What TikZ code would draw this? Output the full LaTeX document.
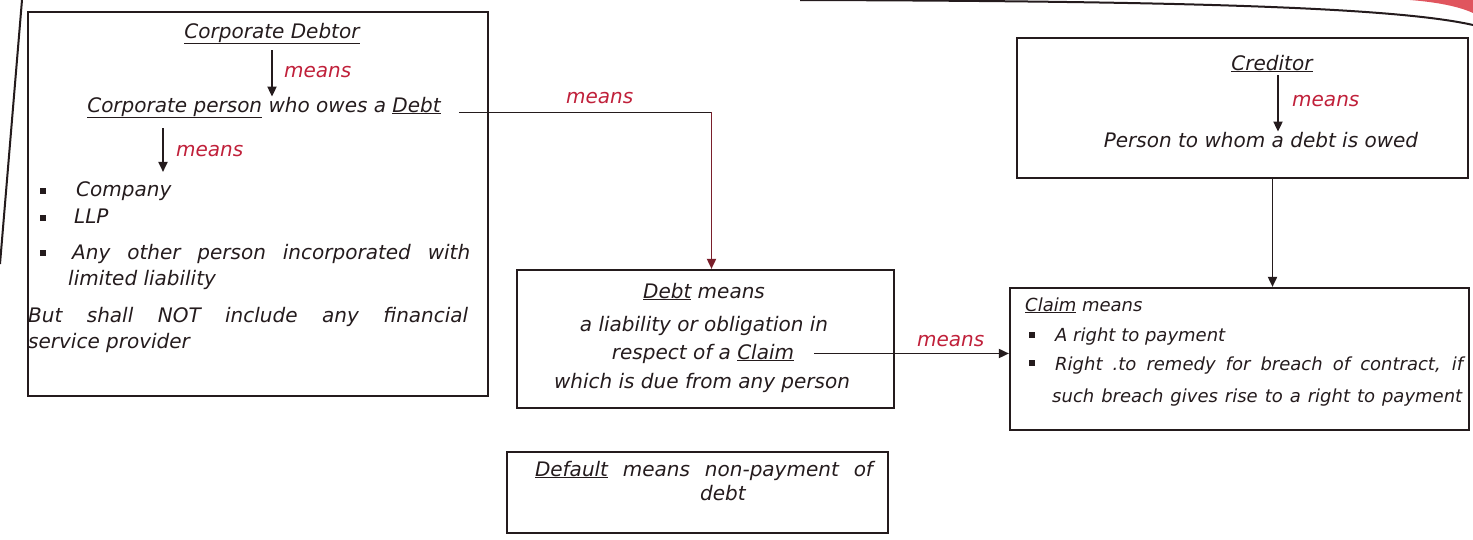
\documentclass[tikz,border=0pt]{standalone}
\usepackage{fontspec}
\setmainfont{DejaVu Sans}
\usetikzlibrary{arrows.meta}
\definecolor{ink}{HTML}{241B1D}
\definecolor{redink}{HTML}{C0203A}
\definecolor{darkred}{HTML}{7A1F2B}
\definecolor{tab}{HTML}{E0555E}
\tikzset{
  box/.style={draw=ink, line width=2.2pt, rectangle, inner sep=0pt},
  frame/.style={draw=ink, line width=2pt},
  txt/.style={font=\fontsize{20}{28}\selectfont\itshape, text=ink, inner sep=0pt, anchor=base},
  txtl/.style={txt, anchor=base west},
  txts/.style={txtl, font=\fontsize{18}{24}\selectfont\itshape},
  lbl/.style={font=\fontsize{20}{24}\selectfont\itshape, text=redink, inner sep=0pt, anchor=base west},
  bul/.style={fill=ink, minimum size=6.5pt, inner sep=0pt},
  line/.style={draw=ink, line width=1.8pt},
  conn/.style={draw=ink, line width=1.8pt, -{Triangle[length=10pt,width=9pt]}},
}
\begin{document}
\begin{tikzpicture}[x=1pt,y=-1pt]
\useasboundingbox (0,0) rectangle (1473,539);
% page frame and tab
\fill[tab] (1410,0) .. controls (1435,2) and (1458,6) .. (1473,13) -- (1473,0) -- cycle;
\draw[frame] (22,0) -- (0,264);
\draw[frame] (800,0) .. controls (1150,1) and (1390,6) .. (1473,25);

% boxes
\node[box, minimum width=460pt, minimum height=384pt] (cdbox) at (258,204) {};
\node[box, minimum width=377pt, minimum height=138pt] (debtbox) at (705.5,339) {};
\node[box, minimum width=451pt, minimum height=140pt] (credbox) at (1242.5,108) {};
\node[box, minimum width=459pt, minimum height=142pt] (claimbox) at (1239.5,359) {};
\node[box, minimum width=381pt, minimum height=81pt] (defbox) at (697.5,492.5) {};

% corporate debtor box
\node[txt] (cdt) at (272,38) {\underline{Corporate Debtor}};
\node[txt] (cdp) at (264,112) {\underline{Corporate person} who owes a \underline{Debt}};
\draw[conn] ([yshift=-6pt]cdt.south) -- (cdt.south |- cdp.north);
\node[lbl] (m1) at (284,77) {means};
\node[bul] (b1) at (43,191) {};
\node[txtl] (c1) at (76,196) {Company};
\node[bul] (b2) at (43,218) {};
\node[txtl] (c2) at (74,223) {LLP};
\node[bul] (b3) at (43,253) {};
\node[txtl] (c3) at (72,259) {\makebox[398pt][s]{Any other person incorporated with}};
\node[txtl] (c4) at (68,285) {limited liability};
\node[txtl] (c5) at (28,322) {\makebox[440pt][s]{But shall NOT include any financial}};
\node[txtl] (c6) at (28,348) {service provider};
\coordinate (a2s) at ([xshift=-101pt,yshift=-10pt]cdp.south);
\coordinate (c1top) at ([yshift=9pt]c1.north);
\draw[conn] (a2s) -- (a2s |- c1top);
\node[lbl] (m2) at (176,156) {means};

% debt connector
\coordinate (dstart) at ([xshift=18pt,yshift=-5pt]cdp.east);
\coordinate (dbend) at ([xshift=6pt]debtbox.north |- dstart);
\draw[line] (dstart) -- (dbend);
\draw[conn, draw=darkred] (dbend) -- (dbend |- debtbox.north);
\node[lbl] (m3) at (566,103) {means};

% debt box
\node[txt] (d1) at (704,298) {\underline{Debt} means};
\node[txt] (d2) at (704,331) {a liability or obligation in};
\node[txt] (d3) at (703,359) {respect of a \underline{Claim}};
\node[txt] (d4) at (702,388) {which is due from any person};
\coordinate (cstart) at ([xshift=20pt]d3.east);
\draw[conn] (cstart) -- (cstart -| claimbox.west);
\node[lbl] (m4) at (917,346) {means};

% creditor box
\node[txt] (cr) at (1272,70) {\underline{Creditor}};
\node[txt] (cr2) at (1261,147) {Person to whom a debt is owed};
\draw[conn] ([yshift=-3pt,xshift=6pt]cr.south) -- ([xshift=6pt]cr.south |- cr2.north);
\node[lbl] (m5) at (1292,106) {means};
\draw[conn] ([xshift=30pt]credbox.south) -- ([xshift=30pt]credbox.south |- claimbox.north);

% claim box
\node[txts] (cl0) at (1025,311) {\underline{Claim} means};
\node[bul] (b4) at (1032,335) {};
\node[txts] (cl1) at (1055,341) {A right to payment};
\node[bul] (b5) at (1032,363) {};
\node[txts] (cl2) at (1055,370) {\makebox[408pt][s]{Right .to remedy for breach of contract, if}};
\node[txts] (cl3) at (1052,402) {\makebox[410pt][s]{such breach gives rise to a right to payment}};

% default box
\node[txt] (df1) at (704,476) {\makebox[338pt][s]{\underline{Default} means non-payment of}};
\node[txt] (df2) at (723,500) {debt};
\end{tikzpicture}
\end{document}
